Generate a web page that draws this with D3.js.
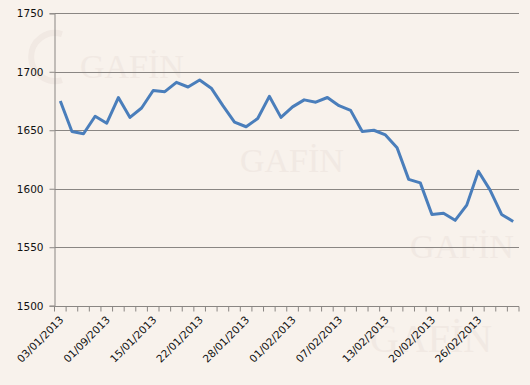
<!DOCTYPE html>
<html>
<head>
<meta charset="utf-8">
<script src="https://cdn.jsdelivr.net/npm/d3@7/dist/d3.min.js"></script>
<style>
html,body{margin:0;padding:0;background:#f8f2ec;}
svg{display:block;}
</style>
</head>
<body>
<svg id="chart" width="530" height="385"></svg>
<script>
const categories = ["03/01","04/01","07/01","08/01","09/01","10/01","11/01","14/01","15/01","16/01",
  "17/01","18/01","22/01","23/01","24/01","25/01","28/01","29/01","30/01","31/01",
  "01/02","04/02","05/02","06/02","07/02","08/02","11/02","12/02","13/02","14/02",
  "15/02","19/02","20/02","21/02","22/02","25/02","26/02","27/02","28/02","01/03"];
const values = [1675,1649,1647,1662,1656,1678,1661,1669,1684,1683,
  1691,1687,1693,1686,1671,1657,1653,1660,1679,1661,
  1670,1676,1674,1678,1671,1667,1649,1650,1646,1635,
  1608,1605,1578,1579,1573,1586,1615,1599,1578,1572];
// tick labels shown on the x axis, keyed by category (as printed in the original)
const xTickLabels = {"03/01":"03/01/2013","09/01":"01/09/2013","15/01":"15/01/2013","22/01":"22/01/2013",
  "28/01":"28/01/2013","01/02":"01/02/2013","07/02":"07/02/2013","13/02":"13/02/2013",
  "20/02":"20/02/2013","26/02":"26/02/2013"};
const yTicks = [1500,1550,1600,1650,1700,1750];

(function(){
const svg = d3.select("#chart");
const pL = 54.5, pR = 519, pT = 13.3, pB = 305.7;
const font = "'DejaVu Sans', Verdana, sans-serif";

svg.append("rect").attr("width",530).attr("height",385).attr("fill","#f8f2ec");

// faint watermarks
const wm = [[80,78,34],[240,172,34],[410,258,34],[370,352,40]];
wm.forEach(([x,y,s])=>{
  svg.append("text").attr("x",x).attr("y",y).attr("font-family","'Liberation Serif', serif")
    .attr("font-size",s).attr("fill","#f1e9e3").text("GAFİN");
});
svg.append("path").attr("d","M62,34 A24,24 0 1,0 62,80").attr("fill","none")
  .attr("stroke","#f1e9e3").attr("stroke-width",6);

const x = d3.scaleBand().domain(categories).range([pL,pR]);
const y = d3.scaleLinear().domain([1500,1750]).range([pB,pT]);

// gridlines
svg.append("g").selectAll("line").data(yTicks.filter(d=>d>1500)).join("line")
  .attr("x1",pL).attr("x2",pR)
  .attr("y1",d=>Math.round(y(d))+0.5).attr("y2",d=>Math.round(y(d))+0.5)
  .attr("stroke","#8a8683").attr("stroke-width",1);

// y axis
const yAxis = d3.axisLeft(y).tickValues(yTicks).tickSize(5).tickPadding(6).tickFormat(d3.format("d"));
const gy = svg.append("g").attr("transform",`translate(${pL},0)`).call(yAxis);
gy.select(".domain").attr("stroke","#8a8683");
gy.selectAll(".tick line").attr("stroke","#8a8683");
gy.selectAll("text").attr("font-family",font).attr("font-size",10.5).attr("fill","#111");

// x axis with ticks at category boundaries
const gx = svg.append("g").attr("transform",`translate(0,${Math.round(pB)+0.5})`);
gx.append("line").attr("x1",pL).attr("x2",pR).attr("stroke","#8a8683");
const bounds = categories.map(c=>x(c)).concat([pR]);
gx.selectAll("line.tk").data(bounds).join("line").attr("class","tk")
  .attr("x1",d=>d).attr("x2",d=>d).attr("y1",0).attr("y2",5).attr("stroke","#8a8683");
gx.selectAll("text").data(categories.filter(c=>xTickLabels[c])).join("text")
  .attr("transform",c=>`translate(${x(c)+x.bandwidth()/2+4},${14}) rotate(-45)`)
  .attr("text-anchor","end")
  .attr("font-family",font).attr("font-size",10.5).attr("fill","#111")
  .text(c=>xTickLabels[c]);

// line
const line = d3.line().x((d,i)=>x(categories[i])+x.bandwidth()/2).y(d=>y(d));
svg.append("path").datum(values).attr("d",line).attr("fill","none")
  .attr("stroke","#4a7ebb").attr("stroke-width",3).attr("stroke-linejoin","round");
})();
</script>
</body>
</html>
